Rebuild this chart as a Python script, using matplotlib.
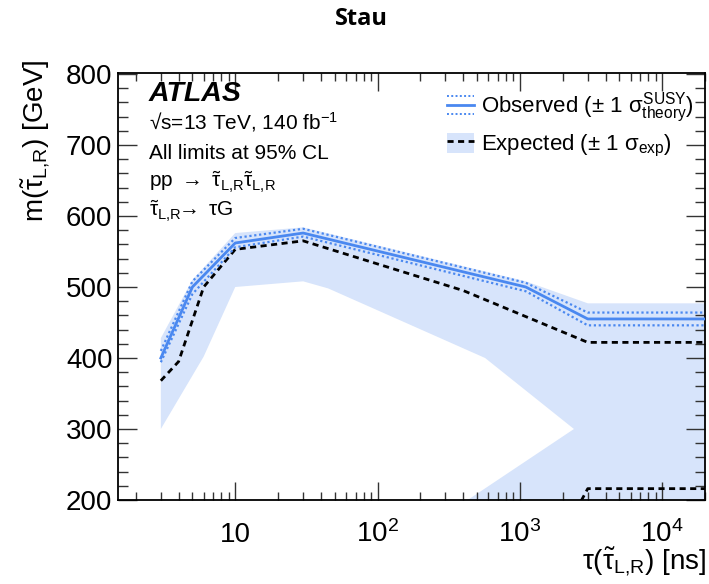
import numpy as np
import matplotlib
matplotlib.use("Agg")
import matplotlib.pyplot as plt
from matplotlib.lines import Line2D
from matplotlib.patches import Patch
from matplotlib.legend_handler import HandlerBase, HandlerTuple
from matplotlib.ticker import FixedLocator, MultipleLocator, FuncFormatter

plt.rcParams['font.family'] = ['Liberation Sans', 'DejaVu Sans']
plt.rcParams['mathtext.fontset'] = 'custom'
plt.rcParams['mathtext.rm'] = 'Liberation Sans'
plt.rcParams['mathtext.it'] = 'Liberation Sans'
plt.rcParams['mathtext.sf'] = 'Liberation Sans'
plt.rcParams['mathtext.bf'] = 'Liberation Sans:bold'
plt.rcParams['mathtext.fallback'] = 'stixsans'

# observed limit and +-1 sigma theory
obs_tau = [3, 5, 10, 30, 1100, 3000, 20000]
obs_m = [400, 500, 562, 576, 500, 455, 455]
obs_up = [410, 508, 569, 582, 506, 464, 464]
obs_dn = [394, 490, 556, 571, 494, 446, 446]

# expected limit (two pieces of contour)
exp_tau = [3, 4, 6, 10, 30, 400, 3000, 20000]
exp_m = [368, 395, 500, 553, 565, 495, 422, 422]
exp2_tau = [2700, 3000, 20000]
exp2_m = [199, 216, 216]

# expected +-1 sigma band edges
band_up_tau = [3, 5, 10, 30, 1100, 3000, 20000]
band_up_m = [428, 510, 576, 584, 508, 477, 477]
band_lo_tau = [3, 6, 10, 30, 45, 570, 2400, 430]
band_lo_m = [300, 402, 500, 508, 498, 400, 300, 200]

blue = '#4a88f0'
band_col = '#d7e4fb'

fig = plt.figure(figsize=(7.09, 5.84), dpi=100)
ax = fig.add_axes([118 / 709, 84 / 584, 587 / 709, 427 / 584])

# band polygon: upper edge left->right, bottom-right corner, lower edge back
poly_x = band_up_tau + [20000] + band_lo_tau[::-1]
poly_y = band_up_m + [200] + band_lo_m[::-1]
ax.fill(poly_x, poly_y, color=band_col, lw=0, zorder=1)

ax.plot(exp_tau, exp_m, color='black', ls=(0, (2.2, 1.6)), lw=2, zorder=3)
ax.plot(exp2_tau, exp2_m, color='black', ls=(0, (2.2, 1.6)), lw=2, zorder=3)
ax.plot(obs_tau, obs_up, color=blue, ls=(0, (1, 1.2)), lw=1.6, zorder=4)
ax.plot(obs_tau, obs_dn, color=blue, ls=(0, (1, 1.2)), lw=1.6, zorder=4)
ax.plot(obs_tau, obs_m, color=blue, lw=2, zorder=5)

ax.set_xscale('log')
ax.set_xlim(1.5, 2e4)
ax.set_ylim(200, 800 + 600 * 1 / 427)

def xfmt(v, pos):
    n = int(round(np.log10(v)))
    return '10' if n == 1 else r'$10^{%d}$' % n

ax.xaxis.set_major_locator(FixedLocator([10, 100, 1000, 10000]))
ax.xaxis.set_major_formatter(FuncFormatter(xfmt))
ax.yaxis.set_major_locator(MultipleLocator(100))
ax.yaxis.set_minor_locator(MultipleLocator(20))

ax.tick_params(which='both', direction='in', top=True, right=True, width=1, color='#333333')
ax.tick_params(axis='y', which='major', length=14, labelsize=20, pad=4)
ax.tick_params(axis='y', which='minor', length=7)
ax.tick_params(axis='x', which='major', length=13, labelsize=20, pad=30)
ax.tick_params(axis='x', which='minor', length=6)
for lab in ax.get_xticklabels():
    lab.set_verticalalignment('baseline')
for s in ax.spines.values():
    s.set_linewidth(1.3)

# legend
class ObsHandler(HandlerBase):
    def create_artists(self, legend, orig, xd, yd, w, h, fontsize, trans):
        y0 = h / 2 - yd
        arts = [Line2D([-xd, w - xd], [y0, y0], color=blue, lw=2)]
        for dy in (h * 0.45, -h * 0.45):
            arts.append(Line2D([-xd, w - xd], [y0 + dy, y0 + dy], color=blue,
                               ls=(0, (1, 1.2)), lw=1.4))
        for a in arts:
            a.set_transform(trans)
        return arts

obs_h = Line2D([], [])
exp_h = (Patch(color=band_col, lw=0), Line2D([], [], color='black', ls=(0, (2.2, 1.6)), lw=2))
ax.legend([obs_h, exp_h],
          [r'Observed ($\pm$ 1 $\sigma^{\mathrm{SUSY}}_{\mathrm{theory}}$)',
           r'Expected ($\pm$ 1 $\sigma_{\mathrm{exp}}$)'],
          handler_map={obs_h: ObsHandler(), tuple: HandlerTuple(ndivide=1)},
          loc='upper left', bbox_to_anchor=((450 - 118) / 587 - 0.012, (500 - 86) / 427),
          frameon=False, fontsize=16, handlelength=1.2, handleheight=1.0,
          handletextpad=0.3, labelspacing=0.35, borderaxespad=0, borderpad=0.2)

tx = (149 - 118) / 587
ax.text(tx, (500 - 100.7) / 427, 'ATLAS', transform=ax.transAxes, fontsize=20.5,
        fontweight='bold', fontstyle='italic', va='baseline')
ax.text(tx, (500 - 129) / 427, r'√s=13 TeV, 140 fb$^{-1}$', transform=ax.transAxes,
        fontsize=15, va='baseline')
ax.text(tx, (500 - 159) / 427, 'All limits at 95% CL', transform=ax.transAxes,
        fontsize=15, va='baseline')
ax.text(tx, (500 - 188) / 427, r'pp $\rightarrow$ $\tilde{\tau}_{L{,}R}\tilde{\tau}_{L{,}R}$',
        transform=ax.transAxes, fontsize=15, va='baseline')
ax.text(tx, (500 - 216.7) / 427, r'$\tilde{\tau}_{L{,}R}\!\!\rightarrow$ $\tau$G',
        transform=ax.transAxes, fontsize=15, va='baseline')

fig.text(36 / 709, 1 - 60 / 584, r'm($\tilde{\tau}_{L{,}R}$) [GeV]', rotation=90,
         fontsize=20, ha='center', va='top')
fig.text(706 / 709, 1 - 545 / 584, r'$\tau$($\tilde{\tau}_{L{,}R}$) [ns]',
         fontsize=20, ha='right', va='top')

fig.text(361 / 709, 1 - 25 / 584, 'Stau', fontsize=17, fontweight='bold',
         family='Open Sans', ha='center', va='baseline')

fig.savefig('out.png', dpi=100)
